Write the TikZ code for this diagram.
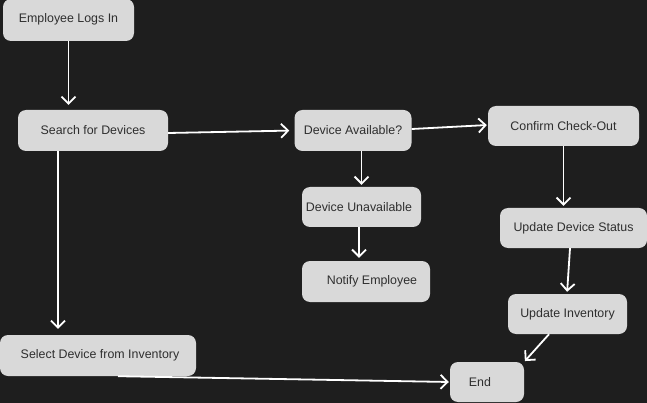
\documentclass[tikz,border=0pt]{standalone}
\usepackage{fontspec}
\setmainfont{Liberation Sans}
\usetikzlibrary{arrows.meta}
\definecolor{bg}{HTML}{1E1E1E}
\definecolor{boxfill}{HTML}{D9D9D9}
\definecolor{txt}{HTML}{2E2E2E}
\begin{document}
\begin{tikzpicture}[x=1pt,y=-1pt,
  box/.style={draw=none,fill=boxfill,rounded corners=8pt,inner sep=0pt,
    text=txt,font=\fontsize{12.4pt}{14pt}\selectfont},
  arr/.style={draw=white,line width=1.8pt,
    -{Straight Barb[length=7pt,width=14pt]}}]
\fill[bg] (0,0) rectangle (647,403);
\useasboundingbox (0,0) rectangle (647,403);
% nodes (centre, width, height)
\node[box,minimum width=131pt,minimum height=42pt] (emp) at (68.5,20) {\raisebox{4pt}{Employee Logs In}};
\node[box,minimum width=150pt,minimum height=41pt] (search) at (93,130.5) {Search for Devices};
\node[box,minimum width=117pt,minimum height=41pt] (avail) at (353,130.5) {Device Available?};
\node[box,minimum width=151pt,minimum height=40pt] (confirm) at (563.5,126) {Confirm Check-Out};
\node[box,minimum width=119pt,minimum height=40pt] (unavail) at (361.5,207) {\hspace*{-5pt}Device Unavailable};
\node[box,minimum width=128pt,minimum height=41pt] (notify) at (366,281.5) {\hspace*{12pt}Notify Employee};
\node[box,minimum width=147pt,minimum height=40pt] (uds) at (573.5,228) {Update Device Status};
\node[box,minimum width=119pt,minimum height=40pt] (ui) at (567.5,314) {Update Inventory};
\node[box,minimum width=196pt,minimum height=41pt] (select) at (98,355.5) {\hspace*{4pt}Select Device from Inventory};
\node[box,minimum width=74pt,minimum height=40pt] (end) at (487,382) {\hspace*{-14pt}End};
% connectors
\draw[arr,shorten >=5pt] (emp.south) -- (emp.south |- search.north);
\draw[arr,shorten >=6pt] ([xshift=-35pt]search.south) -- ([xshift=-35pt]search.south |- select.north);
\draw[arr,shorten >=5pt] ([yshift=-2.5pt]search.east) -- (avail.west);
\draw[arr,shorten >=1pt] ([yshift=1.5pt]avail.east) -- ([yshift=1pt]confirm.west);
\draw[arr,shorten >=2pt] (avail.south -| unavail.north) -- (unavail.north);
\draw[arr,shorten >=3pt] ([xshift=-2.5pt]unavail.south) -- ([xshift=-2.5pt]unavail.south |- notify.north);
\draw[arr,shorten >=2pt] (confirm.south) -- (confirm.south |- uds.north);
\draw[arr,shorten >=2pt] ([xshift=-3.5pt]uds.south) -- ([xshift=-0.5pt]ui.north);
\draw[arr,shorten >=1pt] ([xshift=-18.5pt]ui.south) -- (end.north east);
\draw[arr,shorten >=1pt] ([xshift=20pt]select.south) -- (end.west);
\end{tikzpicture}
\end{document}
